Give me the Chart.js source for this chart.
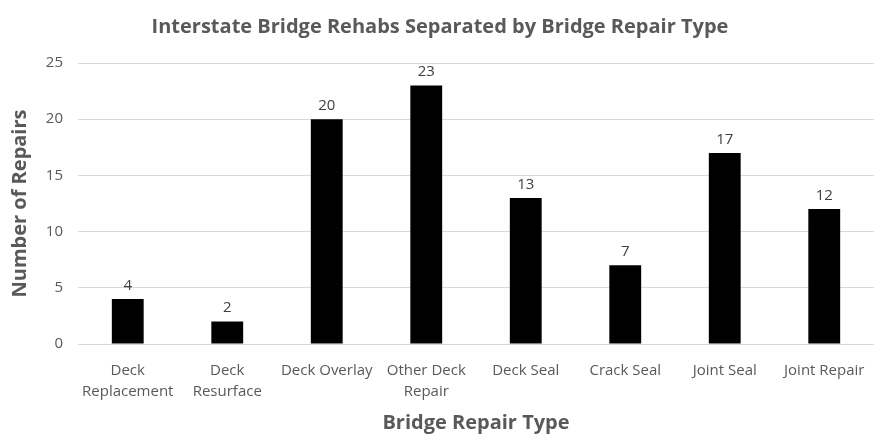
<!DOCTYPE html>
<html>
<head>
<meta charset="utf-8">
<script src="https://cdn.jsdelivr.net/npm/chart.js@4"></script>
<style>
  html, body { margin: 0; padding: 0; background: #fff; }
  #wrap { width: 875px; height: 435px; }
</style>
</head>
<body>
<div id="wrap"><canvas id="repairChart" width="875" height="435"></canvas></div>
<script>
// repair counts per bridge repair type
const repairTypes = [
    ['Deck', 'Replacement'],
    ['Deck', 'Resurface'],
    'Deck Overlay',
    ['Other Deck', 'Repair'],
    'Deck Seal',
    'Crack Seal',
    'Joint Seal',
    'Joint Repair'
];
const repairCounts = [4, 2, 20, 23, 13, 7, 17, 12];
const yTicks = [0, 5, 10, 15, 20, 25];

const FONT = '"Open Sans", sans-serif';
const GREY = '#595959';

// writes the count above each bar
const valueLabels = {
    id: 'valueLabels',
    afterDatasetsDraw(chart) {
        const ctx = chart.ctx;
        const meta = chart.getDatasetMeta(0);
        ctx.save();
        ctx.font = '15px ' + FONT;
        ctx.fillStyle = '#404040';
        ctx.textAlign = 'center';
        ctx.textBaseline = 'bottom';
        meta.data.forEach((bar, i) => {
            ctx.fillText(repairCounts[i], bar.x, bar.y - 6);
        });
        ctx.restore();
    }
};

new Chart(document.getElementById('repairChart'), {
    type: 'bar',
    data: {
        labels: repairTypes,
        datasets: [{
            label: 'Repairs',
            data: repairCounts,
            backgroundColor: '#000',
            borderWidth: 0,
            barPercentage: 1,
            categoryPercentage: 0.32
        }]
    },
    options: {
        responsive: false,
        animation: false,
        layout: { padding: { left: 6, right: 1, top: 0, bottom: 0 } },
        plugins: {
            legend: { display: false },
            tooltip: { enabled: false },
            title: {
                display: true,
                text: 'Interstate Bridge Rehabs Separated by Bridge Repair Type',
                color: GREY,
                font: { family: FONT, size: 20, weight: 'bold' },
                padding: { top: 15, bottom: 24 }
            }
        },
        scales: {
            x: {
                grid: { display: false, drawTicks: false },
                border: { display: false },
                ticks: {
                    color: GREY,
                    font: { family: FONT, size: 15, lineHeight: 1.4 },
                    maxRotation: 0,
                    autoSkip: false,
                    padding: 16
                },
                title: {
                    display: true,
                    text: 'Bridge Repair Type',
                    color: GREY,
                    font: { family: FONT, size: 20, weight: 'bold' },
                    padding: { top: 4, bottom: 0 }
                },
                afterFit(scale) {
                    scale.height = 91;
                    // labels fit inside their categories, no extra side room needed
                    scale.paddingLeft = 0;
                    scale.paddingRight = 0;
                }
            },
            y: {
                min: 0,
                max: 25,
                afterBuildTicks(scale) { scale.ticks = yTicks.map(v => ({ value: v })); },
                grid: { color: '#d9d9d9', lineWidth: 1, drawTicks: false },
                border: { display: false },
                ticks: {
                    color: GREY,
                    font: { family: FONT, size: 15 },
                    padding: 15
                },
                title: {
                    display: true,
                    text: 'Number of Repairs',
                    color: GREY,
                    font: { family: FONT, size: 20, weight: 'bold' },
                    padding: { top: 2, bottom: 4 }
                },
                afterFit(scale) { scale.width = 72; }
            }
        }
    },
    plugins: [valueLabels]
});
</script>
</body>
</html>
